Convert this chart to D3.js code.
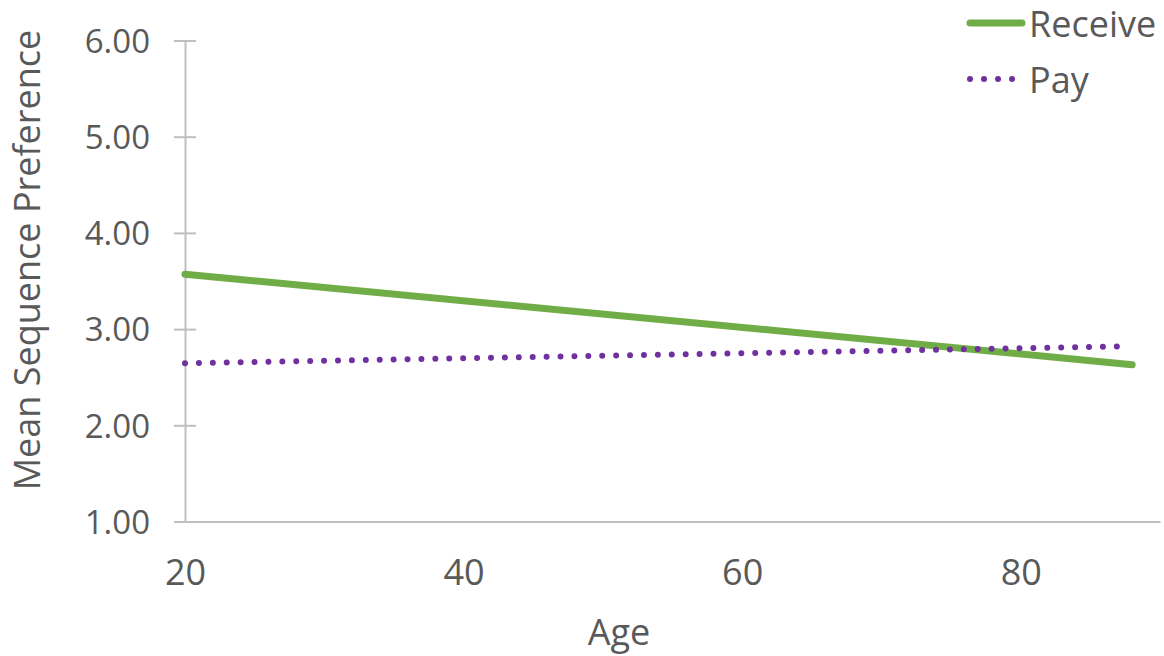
<!DOCTYPE html>
<html>
<head>
<meta charset="utf-8">
<script src="https://cdn.jsdelivr.net/npm/d3@7"></script>
<style>
body { margin: 0; background: #fff; }
text { font-family: "Open Sans", "Noto Sans", sans-serif; fill: #595959; }
</style>
</head>
<body>
<script>
var W = 1164, H = 656;
var ages = [20, 88];
var receive = [3.57, 2.63];
var payAges = [20, 87.5];
var pay = [2.645, 2.82];
var yTicks = [1, 2, 3, 4, 5, 6];
var xTicks = [20, 40, 60, 80];
var axisColor = '#bfbfbf';

var svg = d3.select('body').append('svg')
    .attr('width', W)
    .attr('height', H);

var x = d3.scaleLinear().domain([20, 90]).range([185, 1160]);
var y = d3.scaleLinear().domain([1, 6]).range([521.5, 40.5]);

// y axis
var yAxis = svg.append('g')
    .attr('transform', 'translate(185,0)')
    .call(d3.axisLeft(y).tickValues(yTicks).tickFormat(d3.format('.2f'))
	  .tickSize(11).tickSizeOuter(0).tickPadding(24));
yAxis.select('.domain').attr('stroke', axisColor).attr('stroke-width', 2);
yAxis.selectAll('.tick line')
    .attr('stroke', axisColor).attr('stroke-width', 2)
    .attr('x1', 11).attr('x2', -11);
yAxis.selectAll('.tick text')
    .style('font-size', '33px').attr('fill', '#595959')
    .attr('dy', '0.36em');

// x axis
var xAxis = svg.append('g')
    .attr('transform', 'translate(0,521.5)')
    .call(d3.axisBottom(x).tickValues(xTicks).tickSize(0).tickSizeOuter(0).tickPadding(38));
xAxis.select('.domain').attr('stroke', axisColor).attr('stroke-width', 2);
xAxis.selectAll('.tick text')
    .style('font-size', '36px').attr('fill', '#595959');

// lines
var line = d3.line()
    .x(function(d) { return x(d[0]); })
    .y(function(d) { return y(d[1]); });

svg.append('path')
    .datum(d3.zip(ages, receive))
    .attr('d', line)
    .attr('fill', 'none')
    .attr('stroke', '#70ad47')
    .attr('stroke-width', 7)
    .attr('stroke-linecap', 'round');

svg.append('path')
    .datum(d3.zip(payAges, pay))
    .attr('d', line)
    .attr('fill', 'none')
    .attr('stroke', '#7030a0')
    .attr('stroke-width', 6)
    .attr('stroke-linecap', 'round')
    .attr('stroke-dasharray', '0.01 13.9');

// axis titles
svg.append('text')
    .attr('x', 619).attr('y', 645)
    .attr('text-anchor', 'middle')
    .style('font-size', '36px')
    .text('Age');

svg.append('text')
    .attr('transform', 'translate(40,260) rotate(-90)')
    .attr('text-anchor', 'middle')
    .style('font-size', '36px')
    .text('Mean Sequence Preference');

// legend
var legend = svg.append('g');
legend.append('line')
    .attr('x1', 970).attr('x2', 1022).attr('y1', 23).attr('y2', 23)
    .attr('stroke', '#70ad47').attr('stroke-width', 7).attr('stroke-linecap', 'round');
legend.append('text')
    .attr('x', 1029).attr('y', 37)
    .style('font-size', '36px')
    .text('Receive');
legend.append('line')
    .attr('x1', 970).attr('x2', 1013).attr('y1', 79).attr('y2', 79)
    .attr('stroke', '#7030a0').attr('stroke-width', 6).attr('stroke-linecap', 'round')
    .attr('stroke-dasharray', '0.01 14');
legend.append('text')
    .attr('x', 1029).attr('y', 93)
    .style('font-size', '36px')
    .text('Pay');
</script>
</body>
</html>
